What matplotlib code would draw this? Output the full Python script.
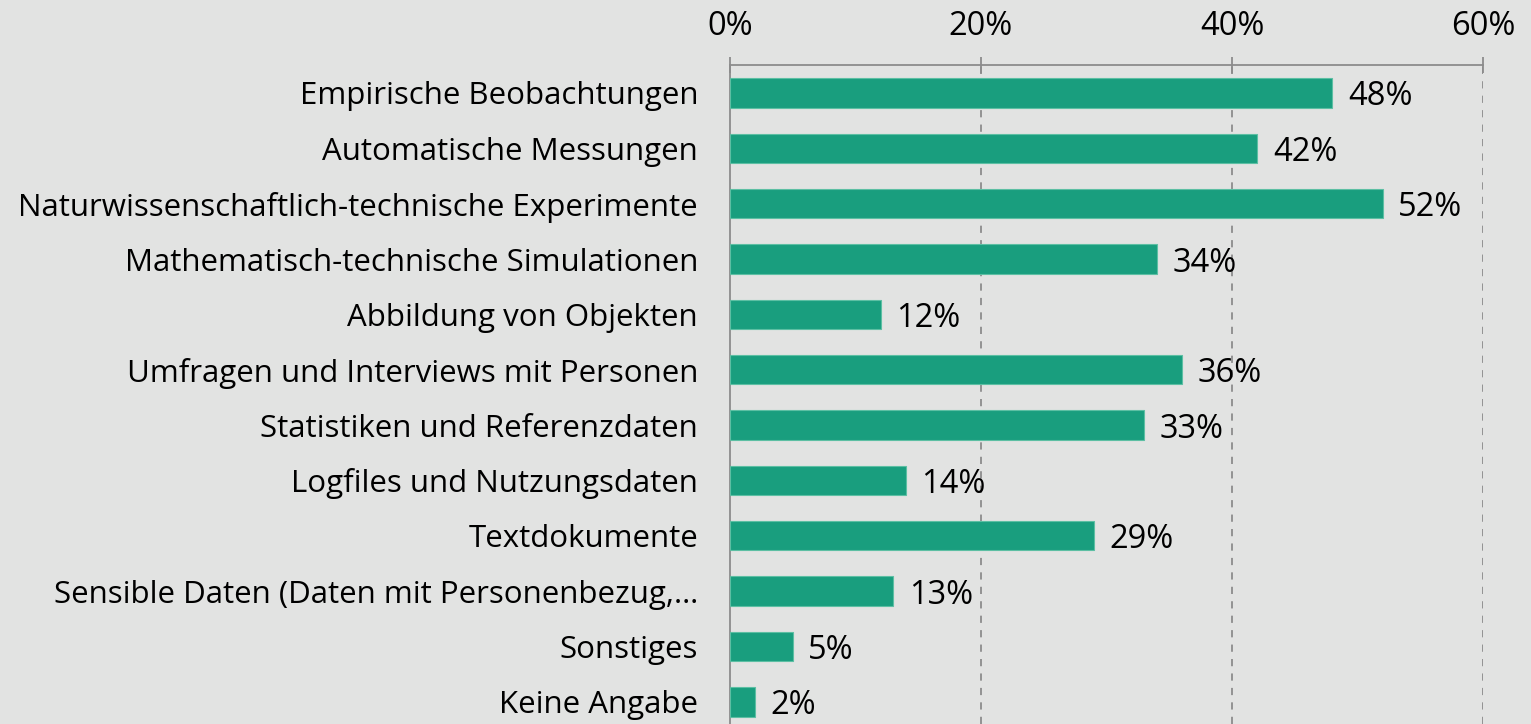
import matplotlib.pyplot as plt

categories = [
    "Empirische Beobachtungen",
    "Automatische Messungen",
    "Naturwissenschaftlich-technische Experimente",
    "Mathematisch-technische Simulationen",
    "Abbildung von Objekten",
    "Umfragen und Interviews mit Personen",
    "Statistiken und Referenzdaten",
    "Logfiles und Nutzungsdaten",
    "Textdokumente",
    "Sensible Daten (Daten mit Personenbezug,\u2026",
    "Sonstiges",
    "Keine Angabe",
]
values = [48, 42, 52, 34, 12, 36, 33, 14, 29, 13, 5, 2]
ticks = [0, 20, 40, 60]

bg = "#e2e3e2"
bar_color = "#199e7e"

plt.rcParams["font.family"] = ["Open Sans", "DejaVu Sans"]

fig = plt.figure(figsize=(15.31, 7.24), dpi=100, facecolor=bg)
ax = fig.add_axes([730 / 1531, 0, (1483 - 730) / 1531, 1 - 65 / 724])
ax.set_facecolor(bg)

y = list(range(len(categories)))
ax.barh(y, values, height=0.53, color=bar_color, edgecolor="#5cbfa3", linewidth=0.8, zorder=3)

for yi, v in zip(y, values):
    ax.text(v + 1.25, yi, f"{v}%", va="center_baseline", ha="left", fontsize=23.5, color="black", zorder=4)

ax.set_xlim(0, 60)
ax.set_ylim(11.4, -0.505)
ax.set_yticks(y)
ax.set_yticklabels(categories, fontsize=22.5)
ax.tick_params(axis="y", length=0, pad=23)

ax.xaxis.tick_top()
ax.set_xticks(ticks)
ax.set_xticklabels([f"{t}%" for t in ticks], fontsize=23.5)
ax.tick_params(axis="x", direction="inout", length=12, width=1.3, color="#8c8c8c", pad=10)

for t in ticks[1:]:
    ax.axvline(t, color="#8c8c8c", linestyle=(0, (4, 4)), linewidth=1.3, zorder=1)

for side in ["right", "bottom"]:
    ax.spines[side].set_visible(False)
for side in ["top", "left"]:
    ax.spines[side].set_color("#8c8c8c")
    ax.spines[side].set_linewidth(1.3)

fig.savefig("out.png", dpi=100, facecolor=bg)
